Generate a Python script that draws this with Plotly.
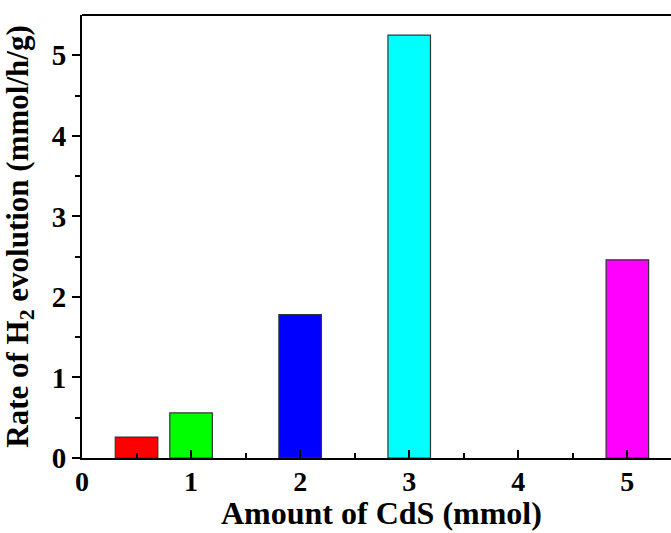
import plotly.graph_objects as go

x_vals = [0.5, 1, 2, 3, 5]
rates = [0.26, 0.56, 1.78, 5.25, 2.46]
colors = ["#ff0000", "#00ff00", "#0000ff", "#00ffff", "#ff00ff"]
x_ticks = [0, 1, 2, 3, 4, 5]
y_ticks = [0, 1, 2, 3, 4, 5]

font_family = "Liberation Serif, Times New Roman, serif"

fig = go.Figure()
fig.add_trace(go.Bar(
    x=x_vals, y=rates, width=0.39,
    marker=dict(color=colors, line=dict(color="#333333", width=1.2)),
))

fig.update_layout(
    width=671, height=533,
    margin=dict(l=82, r=0, t=15, b=75),
    paper_bgcolor="white", plot_bgcolor="white",
    showlegend=False,
    font=dict(family=font_family, color="black"),
    xaxis=dict(
        range=[0, 5.4], tickvals=x_ticks, ticks="inside", ticklen=8, tickwidth=2,
        tickcolor="black", showline=True, linecolor="black", linewidth=2,
        mirror=False, showgrid=False, zeroline=False, ticklabelstandoff=-3,
        tickfont=dict(size=28, family=font_family, weight="bold"),
        minor=dict(tickvals=[0.5, 1.5, 2.5, 3.5, 4.5], ticks="inside", ticklen=5, tickwidth=2, tickcolor="black"),
    ),
    yaxis=dict(
        range=[0, 5.5], tickvals=y_ticks, ticks="outside", ticklen=8, tickwidth=2,
        tickcolor="black", showline=True, linecolor="black", linewidth=2,
        showgrid=False, zeroline=False,
        tickfont=dict(size=29, family=font_family, weight="bold"),
        minor=dict(tickvals=[0.5, 1.5, 2.5, 3.5, 4.5], ticks="outside", ticklen=5, tickwidth=2, tickcolor="black"),
        title=dict(text="Rate of H<sub>2</sub> evolution (mmol/h/g)", font=dict(size=31, family=font_family, weight="bold"), standoff=15),
    ),
    annotations=[dict(
        text="Amount of CdS (mmol)", xref="paper", yref="paper",
        x=(381 - 82) / 589, y=-75 / 443, xanchor="center", yanchor="bottom",
        showarrow=False, font=dict(size=32, family=font_family, weight="bold"),
    )],
)
# top border line
fig.add_shape(type="line", xref="paper", yref="paper", x0=0, x1=1, y0=1, y1=1,
              line=dict(color="black", width=2))

fig.write_html("out.html")
